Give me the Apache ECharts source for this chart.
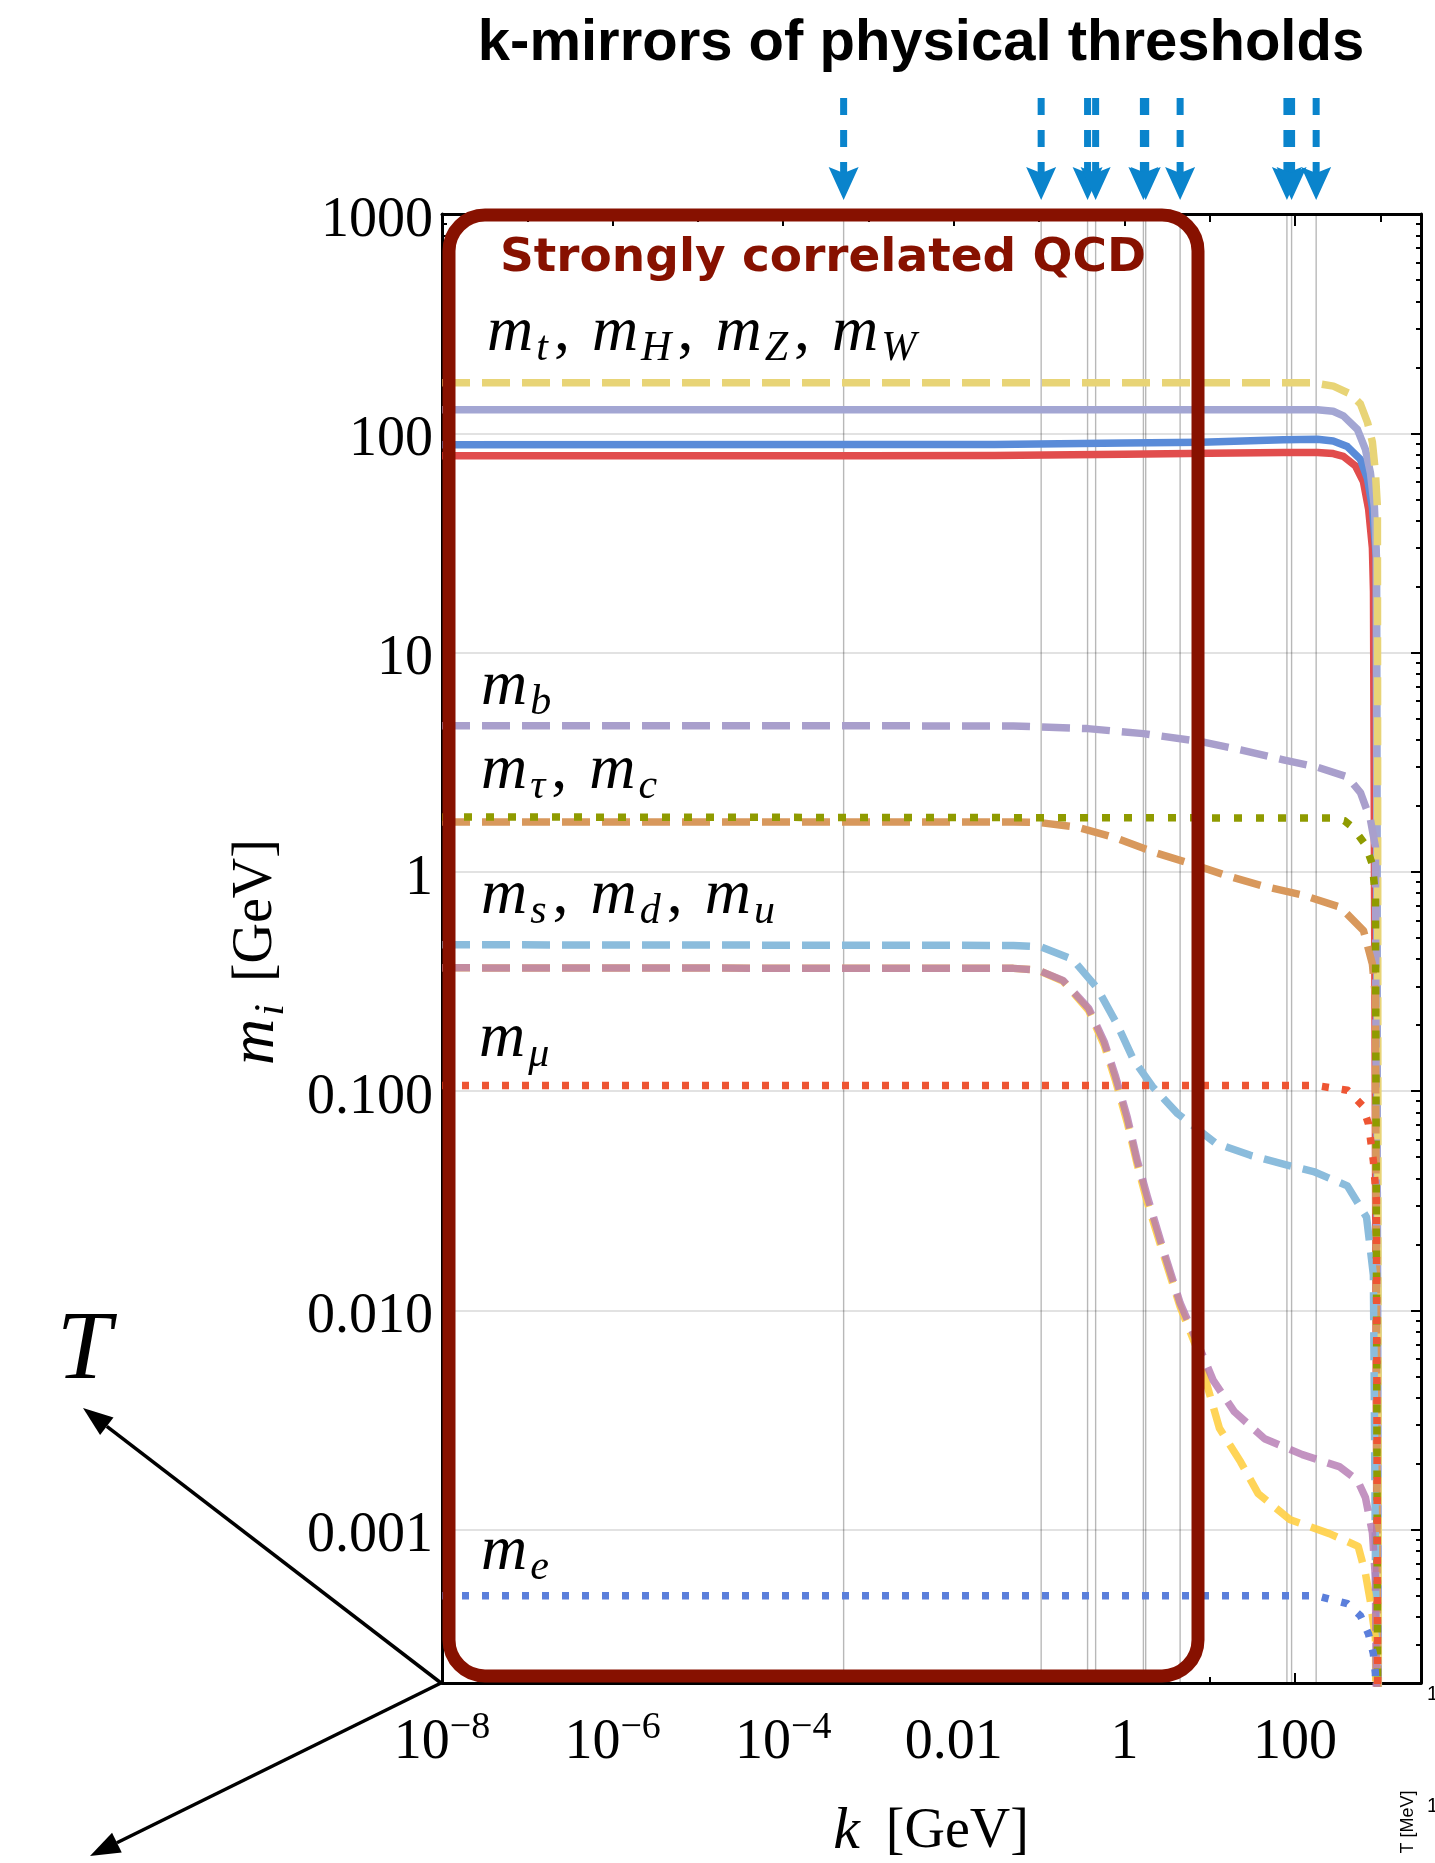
<!DOCTYPE html>
<html>
<head>
<meta charset="utf-8">
<title>k-mirrors of physical thresholds</title>
<script src="https://cdn.jsdelivr.net/npm/echarts@6/dist/echarts.min.js"></script>
<style>
  html, body { margin: 0; padding: 0; background: #ffffff; }
  #chart { width: 1435px; height: 1863px; }
</style>
</head>
<body>
<div id="chart"></div>
<script>
// Running masses m_i(k) [GeV] against the scale k [GeV]; each curve is a list of [k, m] pairs.

// k-mirrors of the physical thresholds (GeV)
const kMirrorsGeV = [0.000511, 0.1057, 0.37, 0.46, 1.67, 1.777, 4.5, 80.4, 91.2, 177];

// gauge / Higgs / top
const mW = [[1e-8, 79], [1e-3, 79], [0.03, 79.2], [1, 80.2], [10, 81], [73, 81.8], [183, 81.8], [280, 80.8],
            [369, 78.5], [511, 71], [635, 60], [730, 45], [808, 30], [832, 19], [950, 1e-5]];
const mZ = [[1e-8, 88.7], [1e-3, 88.8], [0.03, 89], [1, 90.2], [8, 91], [73, 93.5], [183, 94], [280, 92.3],
            [411, 87], [585, 76], [708, 62], [808, 46], [900, 27], [950, 1e-5]];
const mH = [[1e-8, 128], [183, 128], [280, 126], [369, 120], [540, 104], [669, 84.5], [766, 66],
            [853, 46], [900, 27.5], [950, 1e-5]];
const mt = [[1e-8, 170], [164, 170], [282, 164], [447, 151], [585, 136], [708, 112], [808, 91],
            [877, 66], [925, 46], [955, 1e-5]];

// heavy quarks and tau
const mb = [[1e-8, 4.64], [0.05, 4.63], [0.37, 4.5], [1.67, 4.27], [7.8, 3.93], [23, 3.6], [73, 3.24],
            [183, 3.0], [411, 2.71], [585, 2.3], [766, 1.73], [877, 1.3], [950, 1e-5]];
const mtau = [[1e-8, 1.78], [275, 1.76], [380, 1.71], [471, 1.6], [670, 1.33], [808, 1.08], [877, 0.77], [950, 1e-5]];
const mc = [[1e-8, 1.69], [0.05, 1.69], [0.098, 1.68], [0.28, 1.6], [0.78, 1.43], [2.2, 1.23], [5.6, 1.1],
            [16, 0.96], [42.6, 0.86], [122, 0.785], [340, 0.69], [635, 0.54], [808, 0.38], [877, 0.27], [950, 1e-5]];

// light quarks
const ms = [[1e-8, 0.465], [0.05, 0.462], [0.104, 0.455], [0.246, 0.4], [0.48, 0.295], [0.83, 0.2],
            [1.28, 0.139], [2.13, 0.105], [4.2, 0.079], [11.7, 0.058], [30, 0.051], [81, 0.046],
            [165, 0.043], [411, 0.037], [690, 0.0266], [830, 0.0145], [950, 1e-5]];
const md = [[1e-8, 0.365], [0.05, 0.363], [0.096, 0.357], [0.19, 0.32], [0.38, 0.239], [0.58, 0.168],
            [0.78, 0.118], [1.08, 0.076], [1.42, 0.048], [1.86, 0.033], [2.87, 0.0188], [4.5, 0.0108],
            [7.2, 0.0071], [11, 0.0048], [19.5, 0.00345], [44, 0.0026], [122, 0.0022], [330, 0.00194],
            [540, 0.00168], [670, 0.0014], [808, 0.00097], [877, 0.0006], [950, 1e-5]];
const mu = [[1e-8, 0.365], [0.05, 0.363], [0.096, 0.357], [0.19, 0.318], [0.38, 0.234], [0.58, 0.162],
            [0.78, 0.113], [1.08, 0.072], [1.42, 0.046], [1.86, 0.031], [2.87, 0.018], [4.5, 0.0104],
            [7.2, 0.0066], [9.4, 0.0045], [13, 0.0029], [23, 0.00204], [37, 0.00146], [88, 0.00111],
            [253, 0.00096], [550, 0.00084], [670, 0.00063], [766, 0.00047], [877, 0.00032], [950, 1e-5]];

// light leptons
const mmu = [[1e-8, 0.106], [180, 0.106], [411, 0.101], [616, 0.086], [727, 0.071], [830, 0.048], [900, 0.032], [950, 1e-5]];
const me = [[1e-8, 0.0005], [180, 0.0005], [411, 0.00046], [585, 0.000405], [727, 0.000335], [830, 0.000272],
            [877, 0.00022], [950, 1e-5]];

// axis tick labels
const xTickExponents = [-8, -6, -4, -2, 0, 2];
const xTickLabels = ['{b|10}{p|\u22128}', '{b|10}{p|\u22126}', '{b|10}{p|\u22124}', '{b|0.01}', '{b|1}', '{b|100}'];
const yTickValues = [0.001, 0.01, 0.1, 1, 10, 100, 1000];
const yTickLabels = ['0.001', '0.010', '0.100', '1', '10', '100', '1000'];

const lg = Math.log10;
const X_MIN = -8, X_MAX = lg(3000);
const Y_MIN = 2e-4, Y_MAX = 1000;
const SERIF = '"Liberation Serif", "DejaVu Serif", serif';
const SANS = '"Liberation Sans", Arial, sans-serif';
const QCD_RED = '#871100';
const ARROW_BLUE = '#0a84cc';

const toXY = pts => pts.map(([k, m]) => [lg(k), m]);

const DASH = [28, 12];
const DOT = [7, 13];
const curves = [
  { name: 'm_W', data: mW, color: '#e14d4d', type: 'solid' },
  { name: 'm_Z', data: mZ, color: '#5a8bd8', type: 'solid' },
  { name: 'm_H', data: mH, color: '#a3a6d3', type: 'solid' },
  { name: 'm_t', data: mt, color: '#e8d476', type: DASH },
  { name: 'm_b', data: mb, color: '#a99fcc', type: DASH },
  { name: 'm_c', data: mc, color: '#d8985c', type: DASH },
  { name: 'm_s', data: ms, color: '#8bbcdc', type: DASH },
  { name: 'm_u', data: mu, color: '#ffcf45', type: DASH, opacity: 0.9 },
  { name: 'm_d', data: md, color: '#b478b2', type: DASH, opacity: 0.8 },
  { name: 'm_tau', data: mtau, color: '#8f9b00', type: [8, 14] },
  { name: 'm_mu', data: mmu, color: '#ee5533', type: DOT },
  { name: 'm_e', data: me, color: '#5b7fdb', type: DOT }
];

const lineSeries = curves.map((c, i) => ({
  type: 'line',
  name: c.name,
  xAxisIndex: 0,
  yAxisIndex: 0,
  data: toXY(c.data),
  showSymbol: false,
  symbol: 'none',
  smooth: false,
  silent: true,
  z: 3 + i * 0.01,
  clip: true,
  lineStyle: { color: c.color, width: 7.5, type: c.type, cap: 'butt', join: 'round', opacity: c.opacity == null ? 1 : c.opacity }
}));

// thin vertical lines at the k-mirrors inside the plot
const thresholdLines = {
  type: 'custom',
  name: 'k-mirrors',
  xAxisIndex: 0,
  yAxisIndex: 0,
  silent: true,
  z: 1,
  data: kMirrorsGeV.map(k => [lg(k), Y_MAX]),
  renderItem(params, api) {
    const x = api.value(0);
    const a = api.coord([x, Y_MAX]);
    const b = api.coord([x, Y_MIN]);
    return { type: 'line', shape: { x1: a[0], y1: a[1], x2: b[0], y2: b[1] },
             style: { stroke: 'rgba(0,0,0,0.28)', lineWidth: 1.4 } };
  }
};

// dashed arrows above the frame pointing at the k-mirrors
const mirrorArrows = {
  type: 'custom',
  name: 'k-mirror arrows',
  xAxisIndex: 4,
  yAxisIndex: 2,
  silent: true,
  z: 5,
  data: kMirrorsGeV.map(k => [lg(k), 1]),
  renderItem(params, api) {
    const x = api.value(0);
    const top = api.coord([x, 1]);
    const tip = api.coord([x, 0]);
    const headH = 33, headW = 30, notch = 6;
    const baseY = tip[1] - headH;
    return { type: 'group', children: [
      { type: 'line', shape: { x1: top[0], y1: top[1], x2: top[0], y2: baseY + notch },
        style: { stroke: ARROW_BLUE, lineWidth: 7, lineDash: [17, 15] } },
      { type: 'polygon', shape: { points: [[tip[0], tip[1]], [tip[0] - headW / 2, baseY], [tip[0], baseY + notch], [tip[0] + headW / 2, baseY]] },
        style: { fill: ARROW_BLUE } }
    ] };
  }
};

function xLabel(v) {
  const i = xTickExponents.findIndex(e => Math.abs(e - v) < 1e-6);
  return i < 0 ? '' : xTickLabels[i];
}
function yLabel(v) {
  const i = yTickValues.findIndex(t => Math.abs(lg(t) - lg(v)) < 1e-6);
  return i < 0 ? '' : '{v|' + yTickLabels[i] + '}';
}

const axisBlack = { color: '#000', width: 3 };
const tickBlack = { color: '#000', width: 2 };

function xAxisDef(position, interval, tickLen, withLine, withLabels) {
  return {
    type: 'value', gridIndex: 0, position: position, min: X_MIN, max: X_MAX, interval: interval,
    axisLine: { show: withLine, onZero: false, lineStyle: axisBlack },
    axisTick: { show: true, inside: true, length: tickLen, lineStyle: tickBlack },
    splitLine: { show: false },
    axisLabel: withLabels ? {
      show: true, formatter: xLabel, margin: 20, color: '#000',
      rich: {
        b: { fontFamily: SERIF, fontSize: 56, lineHeight: 70, padding: [10, 0, 0, 0], color: '#000' },
        p: { fontFamily: SERIF, fontSize: 38, lineHeight: 70, padding: [0, 0, 20, 0], color: '#000' }
      }
    } : { show: false }
  };
}

function yAxisDef(position, withLabels) {
  return {
    type: 'log', logBase: 10, gridIndex: 0, position: position, min: Y_MIN, max: Y_MAX,
    axisLine: { show: true, onZero: false, lineStyle: axisBlack },
    axisTick: { show: true, inside: true, length: 10, lineStyle: tickBlack },
    minorTick: { show: true, splitNumber: 9, length: 5, lineStyle: tickBlack },
    splitLine: { show: withLabels, lineStyle: { color: '#d9d9d9', width: 1.6 } },
    minorSplitLine: { show: false },
    axisLabel: withLabels ? {
      show: true, formatter: yLabel, margin: 9, color: '#000',
      rich: { v: { fontFamily: SERIF, fontSize: 56, padding: [14, 0, 0, 0], color: '#000' } }
    } : { show: false }
  };
}

// rich-text styles for the math labels (font shorthand keeps the serif face on every token)
const MATH_RICH = {
  m: { font: 'italic 64px ' + SERIF, padding: [0, 3, 0, 0], color: '#000' },
  s: { font: 'italic 42px ' + SERIF, padding: [32, 6, 0, 0], color: '#000' },
  c: { font: '64px ' + SERIF, padding: [0, 22, 0, 0], color: '#000' },
  g: { font: '56px ' + SERIF, padding: [0, 0, 0, 16], color: '#000' }
};

function mathText(text, x, y, extra) {
  return Object.assign({
    type: 'text', z: 102, x: x, y: y,
    style: { text: text, rich: MATH_RICH, fill: '#000', font: '64px ' + SERIF,
             align: 'left', textAlign: 'left', verticalAlign: 'middle', textVerticalAlign: 'middle' }
  }, extra || {});
}

function arrowGraphics(tail, tip) {
  const dx = tip[0] - tail[0], dy = tip[1] - tail[1];
  const len = Math.hypot(dx, dy);
  const ux = dx / len, uy = dy / len;
  const headL = 30, headHalf = 11;
  const bx = tip[0] - headL * ux, by = tip[1] - headL * uy;
  const nx = -uy, ny = ux;
  return [
    { type: 'line', z: 103, shape: { x1: tail[0], y1: tail[1], x2: bx, y2: by },
      style: { stroke: '#000', lineWidth: 3.5 } },
    { type: 'polygon', z: 103, shape: { points: [[tip[0], tip[1]], [bx + headHalf * nx, by + headHalf * ny], [bx - headHalf * nx, by - headHalf * ny]] },
      style: { fill: '#000' } }
  ];
}

const graphics = [
  // frame around the strongly correlated region
  { type: 'rect', z: 100, shape: { x: 449, y: 215, width: 749, height: 1461, r: 36 },
    style: { fill: 'none', stroke: QCD_RED, lineWidth: 13 } },
  { type: 'text', z: 101, x: 823, y: 259,
    style: { text: 'Strongly correlated QCD', font: 'bold 47px "DejaVu Sans"', fill: QCD_RED,
             align: 'center', textAlign: 'center', verticalAlign: 'middle', textVerticalAlign: 'middle' } },
  // heading above the arrows
  { type: 'text', z: 101, x: 921, y: 44,
    style: { text: 'k-mirrors of physical thresholds', font: 'bold 58px ' + SANS, fill: '#000',
             align: 'center', textAlign: 'center', verticalAlign: 'middle', textVerticalAlign: 'middle' } },
  // curve labels
  mathText('{m|m}{s|t}{c|,}{m|m}{s|H}{c|,}{m|m}{s|Z}{c|,}{m|m}{s|W}', 487, 333),
  mathText('{m|m}{s|b}', 481, 687),
  mathText('{m|m}{s|\u03c4}{c|,}{m|m}{s|c}', 481, 771),
  mathText('{m|m}{s|s}{c|,}{m|m}{s|d}{c|,}{m|m}{s|u}', 481, 896),
  mathText('{m|m}{s|\u03bc}', 479, 1039),
  mathText('{m|m}{s|e}', 481, 1552),
  // axis titles
  { type: 'text', z: 102, x: 256, y: 952, rotation: Math.PI / 2,
    style: { text: '{m|m}{s|i}{g|[GeV]}', rich: MATH_RICH, fill: '#000', font: '56px ' + SERIF,
             align: 'center', textAlign: 'center', verticalAlign: 'middle', textVerticalAlign: 'middle' } },
  { type: 'text', z: 102, x: 931, y: 1832,
    style: { text: '{k|k}{g|[GeV]}', fill: '#000', font: '56px ' + SERIF,
             rich: { k: { font: 'italic 60px ' + SERIF, color: '#000' },
                     g: { font: '56px ' + SERIF, padding: [0, 0, 0, 26], color: '#000' } },
             align: 'center', textAlign: 'center', verticalAlign: 'middle', textVerticalAlign: 'middle' } },
  // temperature direction
  { type: 'text', z: 102, x: 84, y: 1352,
    style: { text: 'T', font: 'italic 98px ' + SERIF, fill: '#000',
             align: 'center', textAlign: 'center', verticalAlign: 'middle', textVerticalAlign: 'middle' } },
  ...arrowGraphics([441, 1683], [83, 1408]),
  ...arrowGraphics([441, 1683], [90, 1856]),
  { type: 'text', z: 102, x: 1408, y: 1822, rotation: Math.PI / 2,
    style: { text: 'T [MeV]', font: '18px ' + SANS, fill: '#000',
             align: 'center', textAlign: 'center', verticalAlign: 'middle', textVerticalAlign: 'middle' } },
  { type: 'text', z: 102, x: 1427, y: 1694,
    style: { text: '1', font: '20px ' + SANS, fill: '#000',
             align: 'left', textAlign: 'left', verticalAlign: 'middle', textVerticalAlign: 'middle' } },
  { type: 'text', z: 102, x: 1427, y: 1806,
    style: { text: '1', font: '20px ' + SANS, fill: '#000',
             align: 'left', textAlign: 'left', verticalAlign: 'middle', textVerticalAlign: 'middle' } }
];

const chart = echarts.init(document.getElementById('chart'), null, { renderer: 'canvas', width: 1435, height: 1863 });
chart.setOption({
  animation: false,
  backgroundColor: '#ffffff',
  textStyle: { fontFamily: SERIF },
  grid: [
    { left: 442, right: 14, top: 214, bottom: 180, containLabel: false },
    { left: 442, right: 14, top: 98, height: 102, containLabel: false }
  ],
  xAxis: [
    xAxisDef('bottom', 2, 10, true, true),
    xAxisDef('bottom', 1, 6, false, false),
    xAxisDef('top', 2, 12, true, false),
    xAxisDef('top', 1, 8, false, false),
    { type: 'value', gridIndex: 1, min: X_MIN, max: X_MAX, show: false }
  ],
  yAxis: [
    yAxisDef('left', true),
    yAxisDef('right', false),
    { type: 'value', gridIndex: 1, min: 0, max: 1, show: false }
  ],
  series: [thresholdLines, ...lineSeries, mirrorArrows],
  graphic: { elements: graphics }
});
</script>
</body>
</html>
